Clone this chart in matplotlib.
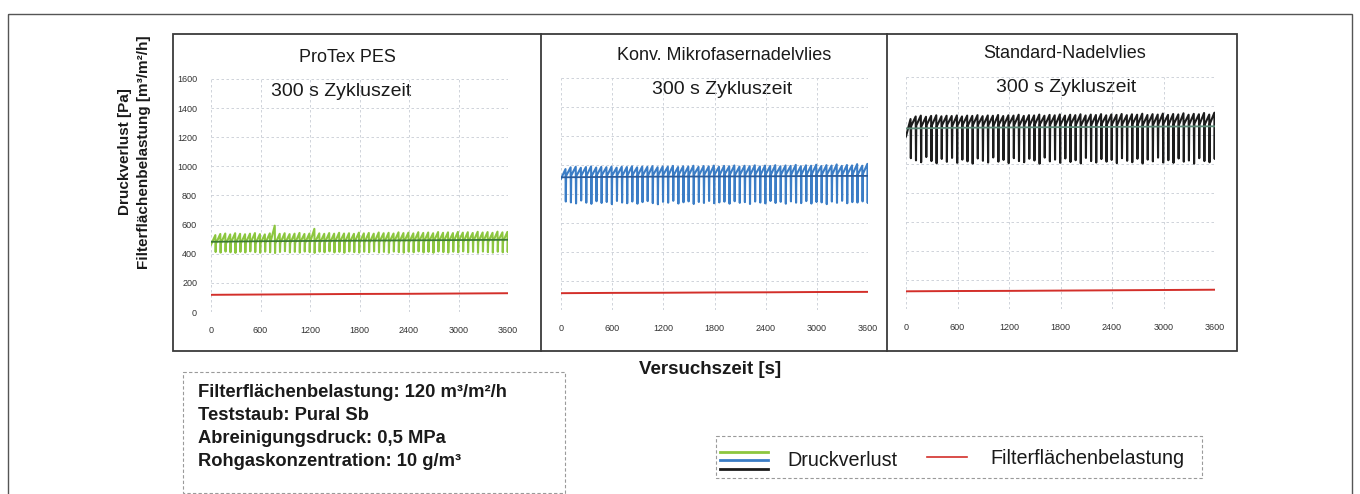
import matplotlib
matplotlib.use("Agg")
import matplotlib.pyplot as plt
from matplotlib import font_manager
from matplotlib.patches import Rectangle
import numpy as np

W, H = 1360, 494

plt.rcParams['font.family'] = ['Liberation Sans', 'DejaVu Sans']
installed = {f.name for f in font_manager.fontManager.ttflist}
TICK_FONT = 'Liberation Sans Narrow' if 'Liberation Sans Narrow' in installed else 'Liberation Sans'

# ---- data -------------------------------------------------------------
panel_titles = ['ProTex PES', 'Konv. Mikrofasernadelvlies', 'Standard-Nadelvlies']
cycle_label = '300 s Zykluszeit'
x_ticks = [0, 600, 1200, 1800, 2400, 3000, 3600]
y_ticks = [0, 200, 400, 600, 800, 1000, 1200, 1400, 1600]
cycle_s = 60  # spacing of the pulses seen in the trace

# ProTex PES - Druckverlust per pulse cycle [Pa]
base_1 = [462, 470, 472, 468, 474, 471, 469, 473, 475, 470, 472, 474,
          476, 471, 473, 475, 472, 474, 477, 473, 475, 478, 474, 476,
          473, 477, 479, 475, 477, 480, 476, 478, 475, 479, 481, 477,
          479, 482, 478, 480, 477, 481, 483, 479, 481, 484, 480, 482,
          479, 483, 485, 481, 483, 486, 482, 484, 481, 485, 487, 483]
peak_1 = [528, 536, 539, 533, 541, 537, 534, 538, 542, 535, 533, 540,
          593, 537, 541, 535, 538, 543, 536, 539, 571, 540, 537, 542,
          538, 544, 539, 541, 537, 545, 540, 543, 538, 546, 541, 544,
          539, 547, 542, 545, 540, 548, 543, 546, 541, 549, 544, 547,
          542, 550, 545, 548, 543, 551, 546, 549, 544, 552, 547, 550]
trough_1 = [412, 408, 415, 410, 406, 413, 409, 416, 411, 407, 414, 410,
            405, 412, 417, 409, 413, 408, 415, 411, 406, 414, 410, 416,
            409, 413, 407, 415, 411, 408, 414, 410, 416, 409, 413, 407,
            415, 411, 408, 414, 410, 416, 409, 413, 407, 415, 411, 408,
            414, 410, 416, 409, 413, 407, 415, 411, 408, 414, 410, 412]

# Konv. Mikrofasernadelvlies
base_2 = [905, 925, 928, 924, 930, 927, 925, 929, 931, 926, 928, 930,
          927, 929, 932, 928, 930, 927, 931, 929, 933, 930, 928, 932,
          929, 931, 934, 930, 932, 929, 933, 931, 935, 932, 930, 934,
          931, 933, 936, 932, 934, 931, 935, 933, 937, 934, 932, 936,
          933, 935, 938, 934, 936, 933, 937, 935, 939, 936, 934, 938]
peak_2 = [972, 984, 988, 981, 986, 990, 983, 987, 985, 989, 982, 988,
          986, 991, 984, 989, 987, 992, 985, 990, 988, 994, 986, 991,
          989, 995, 987, 993, 990, 996, 988, 994, 991, 997, 989, 995,
          992, 998, 990, 996, 993, 999, 991, 997, 994, 1001, 992, 998,
          995, 1002, 993, 999, 996, 1004, 994, 1000, 997, 1006, 995, 1008]
trough_2 = [748, 742, 735, 755, 740, 732, 750, 738, 745, 730, 752, 741,
            736, 748, 733, 744, 751, 737, 729, 746, 740, 753, 734, 743,
            749, 731, 745, 738, 752, 736, 742, 747, 733, 750, 739, 744,
            731, 748, 741, 735, 752, 738, 746, 733, 749, 740, 737, 751,
            734, 745, 742, 730, 748, 739, 753, 736, 744, 741, 749, 738]

# Standard-Nadelvlies
base_3 = [1190, 1262, 1266, 1260, 1268, 1264, 1261, 1267, 1270, 1263, 1266, 1269,
          1265, 1268, 1271, 1266, 1269, 1264, 1270, 1267, 1272, 1268, 1265, 1271,
          1267, 1270, 1273, 1268, 1271, 1266, 1272, 1269, 1274, 1270, 1267, 1273,
          1269, 1272, 1275, 1270, 1273, 1268, 1274, 1271, 1276, 1272, 1269, 1275,
          1271, 1274, 1277, 1272, 1275, 1270, 1276, 1273, 1278, 1274, 1271, 1277]
peak_3 = [1310, 1328, 1334, 1326, 1332, 1336, 1329, 1333, 1331, 1335, 1328, 1334,
          1332, 1337, 1330, 1335, 1333, 1338, 1331, 1336, 1334, 1340, 1332, 1337,
          1335, 1341, 1333, 1339, 1336, 1342, 1334, 1340, 1337, 1343, 1335, 1341,
          1338, 1344, 1336, 1342, 1339, 1345, 1337, 1343, 1340, 1347, 1338, 1344,
          1341, 1348, 1339, 1345, 1342, 1350, 1340, 1346, 1343, 1352, 1341, 1354]
trough_3 = [1040, 1025, 1012, 1048, 1020, 1005, 1035, 1015, 1042, 1008, 1030, 1018,
            1003, 1038, 1022, 1010, 1045, 1016, 1028, 1006, 1040, 1020, 1012, 1036,
            1024, 1002, 1044, 1018, 1030, 1008, 1038, 1014, 1026, 1004, 1042, 1020,
            1010, 1034, 1016, 1028, 1006, 1040, 1022, 1012, 1036, 1004, 1030, 1018,
            1044, 1010, 1026, 1008, 1038, 1016, 1024, 1002, 1040, 1020, 1012, 1035]

# smoothed Druckverlust trend [Pa]
trend_t = [0, 600, 1200, 1800, 2400, 3000, 3600]
trend_1 = [482, 486, 488, 490, 492, 494, 496]
trend_2 = [915, 918, 920, 921, 922, 924, 925]
trend_3 = [1245, 1250, 1252, 1254, 1256, 1258, 1260]

# Filterflächenbelastung [m3/m2/h]
load_t = [0, 600, 1200, 1800, 2400, 3000, 3600]
load_1 = [118, 120, 122, 124, 125, 127, 129]
load_2 = [116, 118, 119, 121, 122, 124, 125]
load_3 = [122, 124, 125, 127, 129, 131, 133]

bases = [base_1, base_2, base_3]
peaks = [peak_1, peak_2, peak_3]
troughs = [trough_1, trough_2, trough_3]
trends = [trend_1, trend_2, trend_3]
loads = [load_1, load_2, load_3]

info_lines = ['Filterflächenbelastung: 120 m³/m²/h',
              'Teststaub: Pural Sb',
              'Abreinigungsdruck: 0,5 MPa',
              'Rohgaskonzentration: 10 g/m³']

# ---- styling ----------------------------------------------------------
TRACE_COLORS = ['#8cc63f', '#3b7dc6', '#1c1c1c']
TREND_COLORS = ['#3c7a34', '#2b5c9c', '#5e8a78']
LOAD_COLOR = '#d32f2a'
GRID_COLOR = '#c8ccd4'
FRAME_COLOR = '#3a3a3a'

# axes extents in pixels (left, top, right, bottom)
AX_BOXES = [(211, 79, 508, 312), (561, 78, 868, 310), (906, 77, 1215, 309)]
TITLE_POS = [(347, 57), (724, 55), (1065, 53)]
SUB_POS = [(341, 92), (722, 90), (1066, 87)]


def sawtooth(base, peak, trough):
    t, v = [], []
    for i, (b, p, q) in enumerate(zip(base, peak, trough)):
        t0 = i * cycle_s
        t += [t0, t0 + 0.88 * cycle_s, t0 + 0.94 * cycle_s]
        v += [b, p, q]
    t.append(len(base) * cycle_s)
    v.append(base[-1])
    return t, v


fig = plt.figure(figsize=(W / 100, H / 100), dpi=100, facecolor='white')

# overlay in pixel coordinates for frames and annotations
ov = fig.add_axes([0, 0, 1, 1])
ov.set_xlim(0, W)
ov.set_ylim(H, 0)
ov.axis('off')

ov.add_patch(Rectangle((8, 14), 1344, 500, fill=False, edgecolor='#555555', lw=1.0))
ov.add_patch(Rectangle((173, 34), 1064, 317, fill=False, edgecolor=FRAME_COLOR, lw=1.3))
for xd in (541, 887):
    ov.plot([xd, xd], [34, 351], color=FRAME_COLOR, lw=1.3)

for i in range(3):
    l, t, r, b = AX_BOXES[i]
    ax = fig.add_axes([l / W, 1 - b / H, (r - l) / W, (b - t) / H])
    ax.set_facecolor('none')
    tx, tv = sawtooth(bases[i], peaks[i], troughs[i])
    ax.plot(tx, tv, color=TRACE_COLORS[i], lw=1.5)
    ax.plot(trend_t, trends[i], color=TREND_COLORS[i], lw=1.3)
    ax.plot(load_t, loads[i], color=LOAD_COLOR, lw=1.4)
    ax.set_xlim(0, 3600)
    ax.set_ylim(0, 1600)
    ax.set_xticks(x_ticks)
    ax.set_yticks(y_ticks)
    ax.grid(True, color=GRID_COLOR, lw=0.6, ls=(0, (3, 3)))
    for s in ax.spines.values():
        s.set_visible(False)
    ax.tick_params(length=0, labelsize=6.5, colors='#333333', pad=10)
    for lab in ax.get_xticklabels() + ax.get_yticklabels():
        lab.set_fontfamily(TICK_FONT)
    if i > 0:
        ax.tick_params(labelleft=False)

    ov.text(*TITLE_POS[i], panel_titles[i], fontsize=13, ha='center', va='center', color='#1a1a1a')
    ov.text(*SUB_POS[i], cycle_label, fontsize=14, ha='center', va='center', color='#1a1a1a')

# axis titles
ov.text(125, 152, 'Druckverlust [Pa]', fontsize=11, fontweight='bold',
        rotation=90, ha='center', va='center', color='#1a1a1a')
ov.text(144, 152, 'Filterflächenbelastung [m³/m²/h]', fontsize=11, fontweight='bold',
        rotation=90, ha='center', va='center', color='#1a1a1a')
ov.text(710, 369, 'Versuchszeit [s]', fontsize=13.5, fontweight='bold',
        ha='center', va='center', color='#1a1a1a')

# test conditions box
ov.add_patch(Rectangle((183, 372), 382, 121, fill=False, edgecolor='#9a9a9a',
                       lw=0.8, ls=(0, (3, 2))))
for k, line in enumerate(info_lines):
    ov.text(198, 392 + k * 23.3, line, fontsize=13.2, fontweight='bold',
            ha='left', va='center', color='#1a1a1a')

# legend box
ov.add_patch(Rectangle((716, 436), 486, 42, fill=False, edgecolor='#9a9a9a',
                       lw=0.8, ls=(0, (3, 2))))
for yy, c in zip((452, 460, 469), TRACE_COLORS):
    ov.plot([720, 768], [yy, yy], color=c, lw=2.0)
ov.text(787, 460, 'Druckverlust', fontsize=14.2, ha='left', va='center', color='#1a1a1a')
ov.plot([927, 967], [457, 457], color=LOAD_COLOR, lw=1.2)
ov.text(990, 458, 'Filterflächenbelastung', fontsize=14.2, ha='left', va='center', color='#1a1a1a')

fig.savefig('out.png', dpi=100, facecolor='white')
